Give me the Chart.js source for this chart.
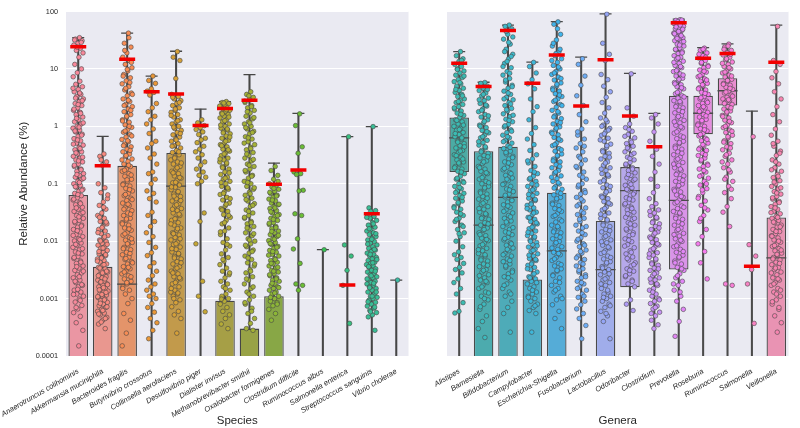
<!DOCTYPE html>
<html><head><meta charset="utf-8">
<script src="https://cdn.jsdelivr.net/npm/chart.js@4.4.1/dist/chart.umd.min.js"></script>
<style>
html,body{margin:0;padding:0;background:#fff;}
#wrap{position:relative;width:800px;height:428px;overflow:hidden;}
#cL{position:absolute;left:0;top:0;}
#cR{position:absolute;left:420px;top:0;}
</style></head><body>
<div id="wrap"><canvas id="cL" width="420" height="428"></canvas><canvas id="cR" width="380" height="428"></canvas></div>
<script>
// ---------------- DATA ----------------
const yTickValues = [100, 10, 1, 0.1, 0.01, 0.001, 0.0001];
const yTickLabels = ['100', '10', '1', '0.1', '0.01', '0.001', '0.0001'];
const yTitle = 'Relative Abundance (%)';

const species = ['Anaerotruncus colihominis','Akkermansia muciniphila','Bacteroides fragilis','Butyrivibrio crossotus','Collinsella aerofaciens','Desulfovibrio piger','Dialister invisus','Methanobrevibacter smithii','Oxalobacter formigenes','Clostridium difficile','Ruminococcus albus','Salmonella enterica','Streptococcus sanguinis','Vibrio cholerae'];
const speciesQ1     = [0, 0, 0, null, 0, null, 0, 0, 0, null, null, null, null, null];
const speciesMedian = [null, null, 0.00178, null, 0.0906, null, null, null, null, null, null, null, null, null];
const speciesQ3     = [0.064, 0.00357, 0.205, null, 0.344, null, 0.00092, 0.0003, 0.0011, null, null, null, null, null];
const speciesMax    = [35, 0.67, 42, 7.5, 20.3, 1.99, 2.69, 7.95, 0.228, 1.68, 0.0071, 0.66, 0.985, 0.0021];
const speciesMean   = [24.4, 0.205, 14.8, 4.0, 3.64, 1.03, 2.04, 2.84, 0.098, 0.173, null, 0.00173, 0.030, null];
const speciesPoints = [
 [35,33,31,28,26,23,21,19,16,12,10,8.6,7.3,6.1,5.4,4.9,4.4,4.0,3.6,3.3,3.0,2.7,2.5,2.3,2.1,1.9,1.75,1.6,1.45,1.3,1.2,1.1,1.0,0.93,0.86,0.8,0.73,0.67,0.61,0.56,0.51,0.47,0.43,0.39,0.36,0.33,0.3,0.28,0.26,0.24,0.22,0.2,0.18,0.165,0.15,0.14,0.13,0.12,0.11,0.1,0.094,0.087,0.08,0.074,0.068,0.062,0.057,0.052,0.047,0.043,0.039,0.036,0.033,0.03,0.028,0.025,0.023,0.021,0.019,0.0175,0.016,0.0145,0.013,0.012,0.011,0.0101,0.0093,0.0085,0.0078,0.0071,0.0065,0.006,0.0054,0.005,0.0045,0.0041,0.0037,0.0034,0.0031,0.0028,0.0026,0.0023,0.0021,0.0019,0.0017,0.0016,0.0014,0.0013,0.0012,0.0011,0.00098,0.00087,0.00076,0.00066,0.00057,0.00049,0.00038,0.00028,0.00015,
  32,29,24,4.6,3.8,3.1,2.8,2.4,2.0,1.68,1.38,1.15,0.97,0.83,0.7,0.58,0.49,0.41,0.345,0.29,0.25,0.21,0.175,0.145,0.125,0.105,0.089,0.077,0.065,0.054,0.045,0.038,0.0315,0.0265,0.022,0.0183,0.0152,0.0126,0.0106,0.0088,0.0074,0.0062,0.0052,0.0043,0.0036,0.003,0.0024,0.002,0.00175,0.00145,0.00118,0.00093,0.0007],
 [0.33,0.3,0.24,0.21,0.1,0.085,0.07,0.055,0.048,0.042,0.036,0.031,0.028,0.025,0.022,0.02,0.018,0.016,0.015,0.0135,0.0125,0.0115,0.0105,0.0098,0.0091,0.0085,0.0079,0.0074,0.0069,0.0064,0.006,0.0056,0.0052,0.0049,0.0046,0.0043,0.004,0.0038,0.0035,0.0033,0.0031,0.0029,0.0027,0.0026,0.0024,0.0023,0.0021,0.002,0.0019,0.0018,0.0017,0.0016,0.0015,0.0014,0.00135,0.0013,0.0012,0.00115,0.0011,0.00104,0.00098,0.00092,0.00086,0.0008,0.00075,0.0007,0.00065,0.0006,0.00056,0.00052,0.00047,0.00042,0.00036,0.0003,
  0.26,0.064,0.039,0.026,0.0215,0.0172,0.0141,0.0119,0.0101,0.0088,0.0076,0.0066,0.0058,0.0051,0.0045,0.0039,0.0034,0.003,0.0028,0.0025,0.0022,0.00195,0.00175,0.00155,0.00142,0.00128,0.00118,0.00108,0.00095,0.00083,0.00072,0.00062,0.00054,0.00045,0.00039],
 [42,28,24,19,16,14,12,10.5,9.2,8,7,6.2,5.5,4.9,4.3,3.8,3.4,3.0,2.7,2.4,2.2,2.0,1.8,1.6,1.45,1.3,1.18,1.06,0.96,0.87,0.79,0.72,0.65,0.59,0.54,0.49,0.44,0.4,0.36,0.33,0.3,0.27,0.245,0.22,0.2,0.18,0.165,0.15,0.135,0.12,0.11,0.1,0.091,0.083,0.075,0.068,0.062,0.056,0.051,0.046,0.042,0.038,0.034,0.031,0.028,0.025,0.023,0.021,0.019,0.017,0.0155,0.014,0.0127,0.0115,0.0104,0.0095,0.0086,0.0078,0.0071,0.0064,0.0058,0.0053,0.0048,0.0044,0.004,0.0036,0.0033,0.003,0.0027,0.0025,0.0022,0.002,0.0018,0.0016,0.0014,0.0012,0.001,0.00082,0.00055,0.00042,0.00025,0.00015,
  35,21,13,9.8,7.5,5.8,4.6,3.6,2.85,2.3,1.9,1.5,1.24,1.0,0.83,0.68,0.56,0.46,0.38,0.31,0.26,0.21,0.172,0.142,0.117,0.096,0.079,0.065,0.053,0.044,0.036,0.0295,0.0243,0.02,0.0163,0.0134,0.011,0.009,0.0074,0.0061,0.005,0.0042,0.0035,0.0029,0.0024,0.0019,0.0015],
 [7.5,6.3,5.6,4.5,4.1,3.9,3.5,2.5,2.1,1.8,1.5,1.3,1.1,0.9,0.75,0.55,0.5,0.42,0.33,0.28,0.22,0.16,0.15,0.12,0.1,0.075,0.068,0.055,0.048,0.032,0.028,0.022,0.018,0.014,0.012,0.0095,0.0078,0.0063,0.0056,0.0042,0.0036,0.003,0.0025,0.0021,0.0018,0.0016,0.0014,0.0012,0.0011,0.001,0.00082,0.0007,0.00058,0.00045,0.00038,0.00028,0.0002],
 [20,16,14,6.8,3.6,3.3,3.0,2.8,2.5,2.3,2.1,1.9,1.75,1.6,1.45,1.3,1.2,1.1,1.0,0.92,0.85,0.78,0.71,0.65,0.6,0.55,0.5,0.46,0.42,0.38,0.35,0.32,0.29,0.26,0.24,0.22,0.2,0.18,0.165,0.15,0.137,0.125,0.114,0.104,0.095,0.087,0.079,0.072,0.066,0.06,0.055,0.05,0.045,0.041,0.037,0.034,0.031,0.028,0.025,0.023,0.021,0.019,0.017,0.0155,0.014,0.0128,0.0116,0.0105,0.0096,0.0087,0.0079,0.0072,0.0065,0.0059,0.0054,0.0049,0.0044,0.004,0.0036,0.0033,0.003,0.0027,0.0024,0.0022,0.002,0.0018,0.0016,0.0014,0.0013,0.0012,0.0011,0.00095,0.00085,0.00072,0.0006,0.00052,0.00045,0.00025,
  3.2,2.6,2.0,1.55,1.25,0.97,0.75,0.58,0.45,0.36,0.28,0.23,0.19,0.155,0.128,0.106,0.088,0.073,0.061,0.051,0.043,0.036,0.0295,0.0245,0.02,0.0165,0.0135,0.011,0.009,0.0074,0.0061,0.0051,0.0042,0.0034,0.0028,0.0023,0.0019,0.0015,0.00125,0.001],
 [1.3,1.15,1.03,0.95,0.88,0.8,0.72,0.62,0.58,0.52,0.45,0.4,0.36,0.32,0.28,0.24,0.21,0.18,0.16,0.14,0.13,0.11,0.1,0.031,0.022,0.009,0.002,0.0011,0.00059],
 [2.7,2.6,2.5,2.35,2.2,2.1,2.0,1.9,1.8,1.7,1.6,1.5,1.4,1.3,1.2,1.1,1.0,0.93,0.86,0.8,0.74,0.68,0.62,0.57,0.52,0.48,0.44,0.4,0.37,0.34,0.31,0.28,0.26,0.24,0.22,0.2,0.18,0.16,0.145,0.13,0.12,0.11,0.1,0.09,0.08,0.072,0.065,0.058,0.052,0.046,0.041,0.037,0.033,0.029,0.026,0.023,0.02,0.017,0.015,0.013,0.011,0.0095,0.0082,0.007,0.006,0.0052,0.0045,0.0039,0.0034,0.003,0.0026,0.0023,0.002,0.0018,0.0016,0.0014,0.0012,0.0011,0.001,0.0009,0.0008,0.0007,0.0006,0.00052,0.00045,0.00036,0.0003,
  2.55,2.25,1.95,1.65,1.45,1.25,1.05,0.9,0.77,0.65,0.55,0.46,0.39,0.33,0.27,0.23,0.19,0.155,0.125,0.105,0.085,0.068,0.055,0.044,0.035,0.028,0.021,0.0145,0.0088,0.0048,0.0028,0.0015,0.00098],
 [4.0,3.6,3.2,2.9,2.6,2.3,2.1,1.9,1.7,1.5,1.35,1.2,1.1,1.0,0.9,0.82,0.74,0.66,0.6,0.54,0.48,0.43,0.39,0.35,0.31,0.28,0.25,0.22,0.2,0.18,0.16,0.14,0.125,0.11,0.1,0.09,0.08,0.071,0.063,0.056,0.05,0.045,0.04,0.035,0.031,0.028,0.025,0.022,0.02,0.018,0.016,0.014,0.0125,0.011,0.01,0.009,0.008,0.007,0.0062,0.0055,0.0048,0.0042,0.0037,0.0032,0.0028,0.0024,0.0021,0.0018,0.0015,0.0013,0.0011,0.00095,0.0008,0.00068,0.00055,0.00045,0.00037,0.0003,0.00028,
  3.4,2.75,2.2,1.8,1.42,1.15,0.95,0.78,0.63,0.51,0.41,0.33,0.265,0.21,0.17,0.135,0.105,0.085,0.067,0.053,0.042,0.033,0.026,0.021,0.017,0.0135,0.0105,0.0085,0.0066,0.0051,0.004,0.003,0.0022,0.0016,0.0012,0.00085,0.0006],
 [0.2,0.17,0.14,0.12,0.1,0.093,0.087,0.08,0.074,0.068,0.063,0.058,0.054,0.05,0.046,0.043,0.04,0.037,0.034,0.031,0.029,0.027,0.025,0.023,0.021,0.0195,0.018,0.0165,0.015,0.014,0.013,0.012,0.011,0.0102,0.0095,0.0088,0.0081,0.0075,0.0069,0.0064,0.0059,0.0055,0.005,0.0046,0.0043,0.004,0.0037,0.0034,0.0031,0.0029,0.0027,0.0025,0.0023,0.0021,0.002,0.0018,0.0017,0.0016,0.0015,0.0014,0.0013,0.0012,0.0011,0.001,0.0009,0.00085,0.00075,0.00065,0.00055,0.00042,
  0.11,0.083,0.071,0.061,0.052,0.044,0.038,0.0325,0.028,0.024,0.0205,0.0172,0.0148,0.0126,0.0108,0.0091,0.0078,0.0066,0.0057,0.0048,0.0041,0.0035,0.003,0.0026,0.0022,0.00185,0.00155,0.00125,0.00105,0.0008],
 [1.65,1.03,0.44,0.34,0.16,0.15,0.145,0.077,0.075,0.03,0.028,0.011,0.0073,0.0041,0.0018,0.0017,0.0014],
 [0.0071],
 [0.66,0.0086,0.0055,0.0031,0.0017,0.00037],
 [0.99,0.038,0.034,0.031,0.029,0.027,0.025,0.023,0.021,0.019,0.0175,0.016,0.015,0.014,0.013,0.012,0.0112,0.0105,0.0098,0.0092,0.0086,0.008,0.0075,0.007,0.0066,0.0062,0.0058,0.0055,0.0052,0.0049,0.0046,0.0043,0.0041,0.0039,0.0037,0.0035,0.0033,0.0031,0.0029,0.0027,0.0026,0.0024,0.0023,0.0021,0.002,0.0019,0.0018,0.0017,0.0016,0.0015,0.0014,0.0013,0.0012,0.0011,0.00105,0.001,0.00093,0.00086,0.0008,0.00074,0.00068,0.00062,0.00057,0.00052,0.00048,0.00028,
  0.033,0.026,0.02,0.0165,0.0135,0.0108,0.0089,0.0072,0.0059,0.0048,0.0042,0.0036,0.003,0.0025,0.0022,0.00185,0.00155,0.0013,0.0011,0.00088,0.00071,0.00059],
 [0.0021]
];

const genera = ['Alistipes','Barnesiella','Bifidobacterium','Campylobacter','Escherichia-Shigella','Fusobacterium','Lactobacillus','Odoribacter','Clostridium','Prevotella','Roseburia','Ruminococcus','Salmonella','Veillonella'];
const generaQ1     = [0.16, 0, 0, 0, 0, null, 0, 0.00158, null, 0.0032, 0.73, 2.3, null, 0];
const generaMedian = [0.63, 0.019, 0.058, null, 0.0068, null, 0.0032, 0.076, null, 0.0514, 1.69, 4.17, null, 0.0051];
const generaQ3     = [1.43, 0.37, 0.44, 0.00216, 0.0695, null, 0.0224, 0.195, null, 3.41, 3.41, 6.86, null, 0.0258];
const generaMax    = [20, 5.86, 58, 13.1, 66.5, 16, 91, 8.36, 1.68, 73.8, 23.4, 27.4, 1.84, 58];
const generaMean   = [12.6, 4.93, 46.5, 5.63, 17.5, 2.26, 14.4, 1.52, 0.44, 64, 15.4, 18.5, 0.00367, 13.1];
const generaPoints = [
 [20,17,15,13.5,12,11,10,9.2,8.5,7.8,7.1,6.5,6,5.5,5,4.6,4.2,3.9,3.6,3.3,3,2.8,2.6,2.4,2.2,2,1.85,1.7,1.55,1.42,1.3,1.2,1.1,1,0.92,0.85,0.78,0.72,0.66,0.6,0.55,0.5,0.46,0.42,0.38,0.35,0.32,0.29,0.26,0.24,0.22,0.2,0.18,0.165,0.15,0.135,0.12,0.11,0.1,0.09,0.082,0.075,0.068,0.062,0.056,0.05,0.045,0.04,0.036,0.032,0.028,0.025,0.022,0.019,0.016,0.014,0.012,0.01,0.008,0.0065,0.0058,0.0052,0.0048,0.0041,0.0035,0.0032,0.0028,0.0022,0.0019,0.0015,0.0012,0.00085,0.0006,0.00056,
  14,9.8,7.5,5.8,4.4,3.4,2.7,2.1,1.62,1.27,1.05,0.88,0.75,0.63,0.53,0.44,0.37,0.31,0.27,0.23,0.19,0.16,0.125,0.105,0.086,0.07,0.058,0.047,0.038,0.03,0.024,0.018,0.0135],
 [5.8,5.4,5,4.6,4.2,3.8,3.4,3.1,2.8,2.5,2.25,2,1.8,1.6,1.45,1.3,1.15,1.05,0.95,0.85,0.77,0.7,0.63,0.57,0.52,0.47,0.42,0.38,0.34,0.31,0.28,0.25,0.225,0.2,0.18,0.165,0.15,0.135,0.12,0.11,0.1,0.09,0.081,0.073,0.066,0.06,0.054,0.049,0.044,0.04,0.036,0.032,0.029,0.026,0.024,0.021,0.019,0.017,0.0155,0.014,0.0125,0.0113,0.0102,0.0092,0.0083,0.0075,0.0068,0.0061,0.0055,0.005,0.0045,0.004,0.0036,0.0032,0.0029,0.0026,0.0023,0.0021,0.0019,0.0017,0.0015,0.0013,0.0011,0.00095,0.0008,0.00065,0.0005,0.0004,0.0003,0.00021,
  5.6,4.4,3.6,2.9,2.35,1.9,1.52,1.22,1.0,0.81,0.66,0.54,0.44,0.36,0.295,0.24,0.19,0.155,0.128,0.104,0.085,0.069,0.056,0.046,0.037,0.03,0.025,0.02,0.016,0.013,0.0107,0.0087,0.0071,0.0058,0.0047,0.0038,0.0031,0.0025,0.002,0.0016,0.00125,0.001,0.00072],
 [58,55,50,40,33,27,22,18,15,12.5,10.5,9,7.8,6.8,5.9,5.2,4.6,4.1,3.6,3.2,2.9,2.6,2.3,2.05,1.85,1.65,1.48,1.33,1.2,1.08,0.97,0.87,0.78,0.7,0.63,0.57,0.51,0.46,0.41,0.37,0.33,0.3,0.27,0.24,0.215,0.195,0.175,0.157,0.14,0.126,0.113,0.1,0.09,0.081,0.073,0.066,0.059,0.053,0.048,0.043,0.039,0.035,0.031,0.028,0.025,0.0225,0.02,0.018,0.016,0.0145,0.013,0.0117,0.0105,0.0094,0.0085,0.0076,0.0068,0.0061,0.0055,0.0049,0.0044,0.004,0.0035,0.0031,0.0027,0.0024,0.0021,0.0018,0.0015,0.0013,0.0011,0.0009,0.0007,0.00055,0.00026,
  45,36,29,20,16.5,13.5,11,8.4,6.4,4.9,3.8,3.0,2.45,1.95,1.56,1.27,1.02,0.82,0.66,0.54,0.43,0.35,0.285,0.23,0.185,0.15,0.12,0.097,0.078,0.063,0.051,0.041,0.033,0.0265,0.0215,0.0172,0.0139,0.0111,0.009,0.0072,0.0058,0.0046,0.0037,0.0029,0.0023,0.0017,0.0012],
 [13,11,8.5,6.5,5.5,4.5,3,2.2,1.8,1.3,0.95,0.75,0.6,0.48,0.38,0.32,0.27,0.23,0.2,0.17,0.15,0.135,0.12,0.11,0.1,0.09,0.082,0.075,0.068,0.062,0.056,0.051,0.046,0.042,0.038,0.035,0.032,0.029,0.026,0.024,0.022,0.02,0.018,0.0165,0.015,0.0137,0.0125,0.0114,0.0104,0.0095,0.0087,0.0079,0.0072,0.0066,0.006,0.0055,0.005,0.0046,0.0042,0.0038,0.0035,0.0032,0.0029,0.0026,0.0024,0.0022,0.002,0.0018,0.0016,0.0015,0.0013,0.0012,0.0011,0.001,0.0009,0.0008,0.0007,0.00062,0.00055,0.00026,
  0.25,0.16,0.125,0.095,0.078,0.065,0.053,0.044,0.037,0.031,0.0255,0.021,0.0175,0.0143,0.0119,0.0099,0.0083,0.0069,0.0057,0.0048,0.004,0.0033,0.0027,0.0023,0.0019,0.0014,0.00105,0.00075],
 [66,60,40,32,25,20,17,15,13,11.5,10,9,8,7.2,6.4,5.7,5.1,4.6,4.1,3.7,3.3,3,2.7,2.4,2.15,1.9,1.7,1.52,1.36,1.22,1.1,0.98,0.88,0.79,0.71,0.64,0.57,0.51,0.46,0.41,0.37,0.33,0.3,0.27,0.24,0.215,0.19,0.17,0.153,0.137,0.123,0.11,0.099,0.089,0.08,0.072,0.064,0.058,0.052,0.046,0.042,0.037,0.033,0.03,0.027,0.024,0.0215,0.019,0.017,0.0155,0.014,0.0125,0.011,0.0099,0.0089,0.008,0.0072,0.0064,0.0058,0.0052,0.0046,0.0041,0.0037,0.0033,0.003,0.0026,0.0023,0.002,0.0017,0.0015,0.0013,0.0011,0.00095,0.00078,0.0006,0.00045,0.0003,
  50,28,22,18.5,14,10.8,8.5,6.8,5.4,4.3,3.5,2.85,2.3,1.8,1.45,1.16,0.93,0.75,0.6,0.48,0.39,0.31,0.25,0.2,0.16,0.13,0.104,0.084,0.068,0.055,0.044,0.035,0.028,0.0225,0.018,0.0145,0.0117,0.0094,0.0076,0.0061,0.0049,0.0039,0.0031,0.0025,0.0019,0.0014,0.001],
 [15,12,7.5,5.2,3.4,2.3,1.6,1.2,0.9,0.7,0.6,0.5,0.42,0.36,0.3,0.26,0.22,0.19,0.16,0.14,0.12,0.1,0.088,0.076,0.066,0.058,0.05,0.044,0.038,0.033,0.029,0.025,0.022,0.019,0.017,0.015,0.013,0.0115,0.01,0.009,0.008,0.007,0.0062,0.0055,0.0048,0.0042,0.0037,0.0033,0.0029,0.0026,0.0023,0.002,0.0018,0.0016,0.0014,0.0012,0.00105,0.0009,0.00078,0.00066,0.00055,0.00045,0.00034,0.0002,
  0.8,0.45,0.28,0.2,0.13,0.095,0.07,0.054,0.041,0.031,0.024,0.018,0.014,0.0108,0.0085,0.0066,0.0051,0.004,0.0031,0.0024,0.0019,0.0015,0.0011],
 [90,28,18,14,8,6.5,5,4,3.2,2.6,2.1,1.7,1.4,1.2,1.05,0.92,0.8,0.7,0.62,0.55,0.49,0.43,0.38,0.34,0.3,0.27,0.24,0.21,0.19,0.17,0.15,0.135,0.12,0.107,0.095,0.085,0.076,0.068,0.061,0.055,0.049,0.044,0.039,0.035,0.031,0.028,0.025,0.0225,0.02,0.018,0.016,0.0145,0.013,0.0117,0.0105,0.0094,0.0085,0.0076,0.0068,0.0061,0.0055,0.0049,0.0044,0.004,0.0036,0.0032,0.0029,0.0026,0.0023,0.0021,0.0019,0.0017,0.0015,0.0013,0.0012,0.0011,0.001,0.0009,0.0008,0.0007,0.0006,0.0005,0.0004,0.0002,
  1.3,1.0,0.86,0.74,0.58,0.46,0.36,0.29,0.23,0.18,0.143,0.113,0.09,0.072,0.058,0.046,0.037,0.0295,0.0235,0.019,0.0152,0.0122,0.0098,0.0079,0.0064,0.0052,0.0042,0.0034,0.0027,0.0022,0.0018,0.0014,0.00105,0.00075,0.00055],
 [8.2,2.1,1.5,1.1,0.95,0.82,0.72,0.63,0.56,0.5,0.45,0.4,0.36,0.32,0.29,0.26,0.235,0.21,0.19,0.17,0.155,0.14,0.127,0.115,0.104,0.094,0.085,0.077,0.07,0.063,0.057,0.052,0.047,0.043,0.039,0.035,0.032,0.029,0.026,0.024,0.021,0.019,0.017,0.0155,0.014,0.0125,0.011,0.0098,0.0087,0.0077,0.0068,0.006,0.0053,0.0047,0.0042,0.0037,0.0033,0.003,0.0027,0.0024,0.0021,0.0018,0.0016,0.00095,0.0008,0.00062,
  0.88,0.67,0.53,0.42,0.34,0.275,0.22,0.18,0.145,0.12,0.098,0.08,0.066,0.054,0.045,0.037,0.03,0.025,0.02,0.0163,0.013,0.0104,0.0082,0.0064,0.005,0.0039,0.0031,0.0025,0.002],
 [1.6,1.4,1.1,0.8,0.55,0.4,0.3,0.22,0.16,0.12,0.09,0.07,0.055,0.045,0.04,0.035,0.031,0.028,0.025,0.022,0.02,0.018,0.016,0.0145,0.013,0.0118,0.0106,0.0095,0.0086,0.0078,0.007,0.0063,0.0057,0.0052,0.0047,0.0042,0.0038,0.0034,0.0031,0.0028,0.0025,0.0023,0.0021,0.0019,0.0017,0.0015,0.0014,0.0012,0.0011,0.001,0.0009,0.00082,0.00074,0.00066,0.00058,0.0005,0.00042,0.00035,0.0003,
  0.033,0.026,0.021,0.017,0.0138,0.0112,0.009,0.0074,0.006,0.0049,0.004,0.0033,0.0027,0.0022,0.0018,0.0013,0.00095,0.0007,0.00055],
 [72,70,67,64,62,60,57,55,52,50,47,44,42,40,37,35,33,31,29,27,25,23,21.5,20,18.5,17,16,14.8,13.6,12.5,11.5,10.5,9.7,9,8.2,7.5,6.9,6.3,5.8,5.3,4.9,4.5,4.1,3.7,3.4,3.1,2.8,2.55,2.3,2.1,1.9,1.72,1.55,1.4,1.27,1.15,1.04,0.94,0.85,0.76,0.68,0.61,0.55,0.5,0.45,0.4,0.36,0.32,0.29,0.26,0.235,0.21,0.19,0.17,0.153,0.137,0.123,0.11,0.099,0.089,0.08,0.072,0.064,0.058,0.052,0.046,0.041,0.037,0.033,0.03,0.027,0.024,0.0215,0.019,0.017,0.0153,0.0137,0.0123,0.011,0.0099,0.0089,0.008,0.0072,0.0064,0.0057,0.0051,0.0045,0.004,0.0035,0.0031,0.0027,0.0023,0.002,0.0017,0.0014,0.0011,0.0009,0.00065,0.0004,0.00022,
  71,66,63,58,54,49,45,41,38,34,30,26,22,19,15.5,13,11,9.3,7.8,6.6,5.5,4.7,3.9,3.25,2.7,2.2,1.8,1.48,1.2,0.98,0.8,0.65,0.52,0.42,0.34,0.27,0.22,0.18,0.145,0.115,0.093,0.075,0.06,0.048,0.039,0.031,0.025,0.02,0.016,0.013,0.0104,0.0083,0.0066,0.0053,0.0042,0.0033,0.0025,0.0018,0.0013],
 [23,21,19,17,15.5,14,12.5,11.5,10.5,9.6,8.8,8,7.3,6.7,6.1,5.6,5.1,4.7,4.3,3.9,3.6,3.3,3,2.75,2.5,2.3,2.1,1.9,1.75,1.6,1.45,1.32,1.2,1.1,1,0.91,0.83,0.75,0.68,0.62,0.56,0.51,0.46,0.42,0.38,0.34,0.31,0.28,0.25,0.22,0.2,0.18,0.16,0.14,0.125,0.11,0.095,0.082,0.07,0.06,0.05,0.042,0.035,0.028,0.022,0.016,0.012,0.009,0.0066,0.0042,0.0022,
  22,18,16,13,11,9.1,7.6,6.4,5.3,4.5,3.75,3.15,2.6,2.2,1.82,1.52,1.26,1.05,0.87,0.72,0.59,0.48,0.4,0.32,0.26,0.21,0.17,0.135,0.1,0.078,0.056,0.038,0.025],
 [27,24,21,19,17.5,16,14.5,13.2,12,11,10,9.2,8.5,7.8,7.2,6.6,6.1,5.6,5.2,4.8,4.4,4.1,3.8,3.5,3.2,3,2.8,2.6,2.4,2.2,2,1.85,1.7,1.55,1.4,1.28,1.16,1.05,0.95,0.86,0.78,0.7,0.63,0.56,0.5,0.44,0.39,0.34,0.3,0.26,0.22,0.19,0.16,0.13,0.11,0.09,0.07,0.055,0.04,0.032,0.018,0.0018,0.0017,
  25,22,18,15,12.5,10.5,8.8,7.5,6.3,5.4,4.6,3.95,3.35,2.9,2.5,2.1,1.78,1.48,1.22,1.0,0.82,0.66,0.53,0.42,0.32,0.24,0.175,0.12,0.08],
 [0.66,0.0087,0.0055,0.0032,0.0018,0.00037],
 [55,14,12,9,7,5.5,4,3,2.2,1.6,1.2,0.9,0.7,0.55,0.45,0.37,0.31,0.26,0.22,0.19,0.165,0.145,0.128,0.113,0.1,0.09,0.081,0.073,0.066,0.06,0.054,0.049,0.044,0.04,0.036,0.033,0.03,0.027,0.025,0.023,0.021,0.019,0.0175,0.016,0.0147,0.0135,0.0124,0.0114,0.0105,0.0096,0.0088,0.0081,0.0074,0.0068,0.0062,0.0057,0.0052,0.0047,0.0043,0.0039,0.0035,0.0032,0.0029,0.0026,0.0023,0.0021,0.0019,0.0017,0.0015,0.0013,0.0011,0.00095,0.0008,0.00065,0.0005,0.00038,0.00026,
  0.5,0.34,0.24,0.175,0.135,0.107,0.085,0.069,0.057,0.047,0.038,0.0315,0.026,0.0215,0.0178,0.0148,0.0122,0.01,0.0084,0.007,0.0059,0.0049,0.0041,0.0034,0.0028,0.0022,0.0018,0.0014,0.0012,0.00088,0.0007]
];

// ---------------- STYLE ----------------
const FONT = "'Liberation Sans', Arial, Helvetica, sans-serif";
const TXT = '#262626';
const BG = '#EAEAF2';
const ZERO_FLOOR = 1e-6; // zero has no place on a log axis: drawn below the visible range (clipped)

// seaborn-like HUSL palette
const MX = [[3.2406,-1.5372,-0.4986],[-0.9689,1.8758,0.0415],[0.0557,-0.2040,1.0570]];
function maxChroma(L, H) {
  const hr = H * Math.PI / 180, sinH = Math.sin(hr), cosH = Math.cos(hr);
  const sub1 = Math.pow(L + 16, 3) / 1560896;
  const sub2 = sub1 > 0.008856 ? sub1 : L / 903.3;
  let res = Infinity;
  for (const [m1, m2, m3] of MX) {
    const top = (0.99915 * m1 + 1.05122 * m2 + 1.14460 * m3) * sub2;
    const rb = 0.86330 * m3 - 0.17266 * m2;
    const lb = 0.12949 * m3 - 0.38848 * m1;
    const bottom = (rb * sinH + lb * cosH) * sub2;
    for (const t of [0, 1]) {
      const C = L * (top - 1.05122 * t) / (bottom + 0.17266 * sinH * t);
      if (C > 0 && C < res) res = C;
    }
  }
  return res;
}
function huslToRgb(H, S, L) {
  const C = maxChroma(L, H) / 100 * S;
  const hr = H * Math.PI / 180;
  const U = Math.cos(hr) * C, V = Math.sin(hr) * C;
  const Y = L > 8 ? Math.pow((L + 16) / 116, 3) : L / 903.3;
  const vU = U / (13 * L) + 0.19784, vV = V / (13 * L) + 0.46834;
  const X = -(9 * Y * vU) / ((vU - 4) * vV - vU * vV);
  const Z = (9 * Y - 15 * vV * Y - vV * X) / (3 * vV);
  return MX.map(r => {
    let c = r[0] * X + r[1] * Y + r[2] * Z;
    c = c <= 0.0031308 ? 12.92 * c : 1.055 * Math.pow(c, 1 / 2.4) - 0.055;
    return Math.min(1, Math.max(0, c));
  });
}
function huslPalette(n, h, s, l) {
  const out = [];
  for (let i = 0; i < n; i++) {
    const hue = ((i / n + h) % 1) * 359;
    out.push(huslToRgb(hue, s * 99, l * 99));
  }
  return out;
}
function rgbToHls([r, g, b]) {
  const mx = Math.max(r, g, b), mn = Math.min(r, g, b), l = (mx + mn) / 2;
  if (mx === mn) return [0, l, 0];
  const s = l <= 0.5 ? (mx - mn) / (mx + mn) : (mx - mn) / (2 - mx - mn);
  const rc = (mx - r) / (mx - mn), gc = (mx - g) / (mx - mn), bc = (mx - b) / (mx - mn);
  let h = r === mx ? bc - gc : (g === mx ? 2 + rc - bc : 4 + gc - rc);
  h = ((h / 6) % 1 + 1) % 1;
  return [h, l, s];
}
function hlsToRgb(h, l, s) {
  if (s === 0) return [l, l, l];
  const m2 = l <= 0.5 ? l * (1 + s) : l + s - l * s, m1 = 2 * l - m2;
  const v = hh => { hh = ((hh % 1) + 1) % 1; if (hh < 1/6) return m1 + (m2 - m1) * hh * 6; if (hh < 0.5) return m2; if (hh < 2/3) return m1 + (m2 - m1) * (2/3 - hh) * 6; return m1; };
  return [v(h + 1/3), v(h), v(h - 1/3)];
}
function desat(rgb, p) { const [h, l, s] = rgbToHls(rgb); return hlsToRgb(h, l, s * p); }
const css = c => 'rgb(' + c.map(x => Math.round(x * 255)).join(',') + ')';
function grayOf(cols) { const lum = Math.min(...cols.map(c => rgbToHls(c)[1])) * 0.6; return css([lum, lum, lum]); }

const pal = huslPalette(28, 0.01, 0.9, 0.7);
const boxPal = pal.map(c => desat(c, 0.75));

const jit = k => (((k + 1) * 0.6180339887) % 1 - 0.5) * 0.44;
const floorZero = v => (v === 0 ? ZERO_FLOOR : v);

const bgPlugin = {
  id: 'bgArea',
  beforeDraw(chart) {
    const { ctx, chartArea: a } = chart;
    ctx.save(); ctx.fillStyle = BG; ctx.fillRect(a.left, a.top, a.right - a.left, a.bottom - a.top); ctx.restore();
  }
};

function makeChart(canvas, cfg) {
  const n = cfg.labels.length;
  const cols = pal.slice(cfg.offset, cfg.offset + n);
  const bcols = boxPal.slice(cfg.offset, cfg.offset + n);
  const LINE = grayOf(bcols);
  const PEDGE = grayOf(cols);
  const boxData = cfg.q3.map((v, i) => v == null ? null : [floorZero(cfg.q1[i]), v]);
  const whiskData = cfg.max.map(v => [ZERO_FLOOR, v]);
  const medData = [], meanData = [], capData = [];
  cfg.labels.forEach((lab, i) => {
    if (cfg.med[i] != null) medData.push({ x: lab, y: cfg.med[i] });
    if (cfg.mean[i] != null) meanData.push({ x: lab, y: cfg.mean[i] });
    capData.push({ x: lab, y: cfg.max[i] });
  });
  const ptData = [], ptCols = [];
  cfg.pts.forEach((arr, i) => arr.forEach((v, k) => { ptData.push({ x: i + jit(k), y: v }); ptCols.push(css(cols[i])); }));

  return new Chart(canvas, {
    type: 'bar',
    data: {
      labels: cfg.labels,
      datasets: [
        { type: 'bar', data: whiskData, backgroundColor: LINE, barThickness: 1.4, grouped: false, order: 6, clip: 0 },
        { type: 'bar', data: boxData, backgroundColor: bcols.map(css), borderColor: LINE, borderWidth: 1.3, borderSkipped: false,
          barPercentage: 0.8, categoryPercentage: 1, grouped: false, order: 5, clip: 0 },
        { type: 'scatter', data: medData, pointStyle: 'line', pointRadius: 10, pointBorderColor: LINE, pointBorderWidth: 1.3, order: 4 },
        { type: 'scatter', data: capData, pointStyle: 'line', pointRadius: 6, pointBorderColor: LINE, pointBorderWidth: 1.3, order: 3 },
        { type: 'scatter', xAxisID: 'xj', data: ptData, pointRadius: 2.3, pointBackgroundColor: ptCols,
          pointBorderColor: PEDGE, pointBorderWidth: 0.6, order: 2 },
        { type: 'scatter', data: meanData, pointStyle: 'line', pointRadius: 8, pointBorderColor: '#f20000', pointBorderWidth: 3.5, order: 1 }
      ]
    },
    options: {
      responsive: false, animation: false,
      layout: { padding: { left: 0, right: cfg.padRight, top: 7, bottom: 0 } },
      plugins: { legend: { display: false }, tooltip: { enabled: false } },
      scales: {
        x: {
          type: 'category', offset: true,
          grid: { display: false }, border: { display: false },
          ticks: { autoSkip: false, minRotation: 30, maxRotation: 30, padding: 3,
                   font: { family: FONT, size: 7.5, style: 'italic' }, color: TXT },
          title: { display: true, text: cfg.title, font: { family: FONT, size: 11.5 }, color: TXT, padding: { top: 3, bottom: 0 } },
          afterFit: s => { s.height = 72; s.paddingLeft = 0; s.paddingRight = 0; }
        },
        xj: { type: 'linear', display: false, offset: false, grid: { offset: false }, bounds: 'data',
              min: -0.5, max: n - 0.5, beginAtZero: false },
        y: {
          type: 'logarithmic', min: 0.0001, max: 100,
          grid: { color: '#ffffff', lineWidth: 1, drawTicks: false }, border: { display: false },
          afterBuildTicks: s => { s.ticks = yTickValues.map(v => ({ value: v })); },
          ticks: { display: cfg.showY, padding: 8, font: { family: FONT, size: 7.3 }, color: TXT,
                   callback: v => yTickLabels[yTickValues.indexOf(v)] },
          title: { display: cfg.showY, text: yTitle, font: { family: FONT, size: 11.5 }, color: TXT, padding: { top: 17, bottom: 0 } },
          afterFit: s => { s.width = cfg.yWidth; s.paddingTop = 0; s.paddingBottom = 0; }
        }
      }
    },
    plugins: [bgPlugin]
  });
}

makeChart(document.getElementById('cL'), {
  labels: species, q1: speciesQ1, med: speciesMedian, q3: speciesQ3, max: speciesMax, mean: speciesMean, pts: speciesPoints,
  offset: 0, title: 'Species', showY: true, yWidth: 66, padRight: 4
});
makeChart(document.getElementById('cR'), {
  labels: genera, q1: generaQ1, med: generaMedian, q3: generaQ3, max: generaMax, mean: generaMean, pts: generaPoints,
  offset: 14, title: 'Genera', showY: false, yWidth: 27, padRight: 3
});
</script></body></html>
